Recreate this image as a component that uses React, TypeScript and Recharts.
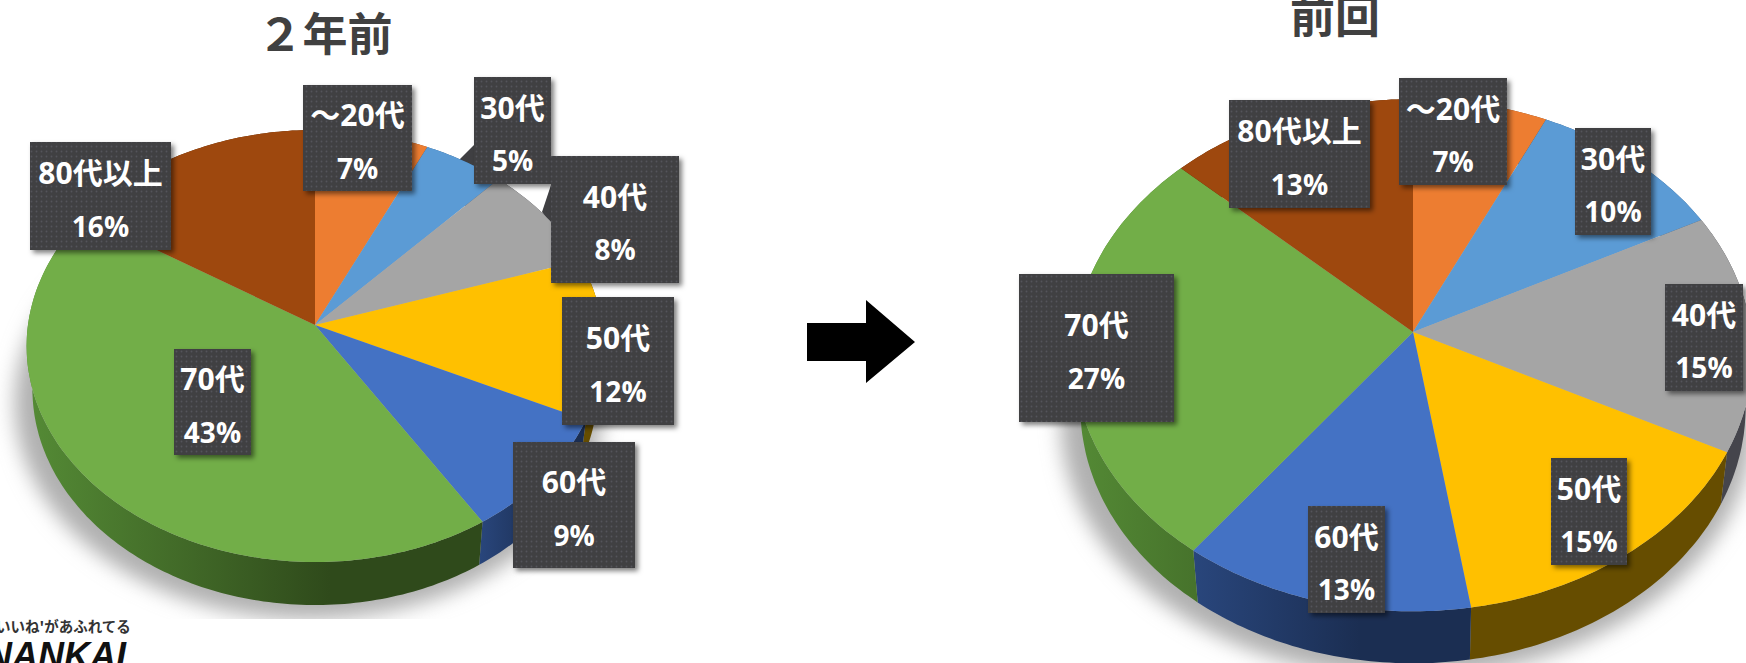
import { PieChart, Pie } from 'recharts'

const ageGroups = ['～20代', '30代', '40代', '50代', '60代', '70代', '80代以上']
const twoYearsAgo = [7, 5, 8, 12, 9, 43, 16]
const lastTime = [7.0, 10.4, 15.1, 15.0, 12.8, 26.7, 13.0]

const topColors = ['#ED7D31', '#5B9BD5', '#A5A5A5', '#FFC000', '#4472C4', '#72AE48', '#9E480E']
const wallColors = ['#7f3f14', '#2f5a85', '#45454c', '#664D00', 'url(#wallBlue)', 'url(#wallGreen)', '#5a2a08']
const wallColorsRight = ['#7f3f14', '#2f5a85', '#45454c', '#664D00', 'url(#wallBlue)', 'url(#wallGreenR)', '#5a2a08']

// label boxes [left, top, right, bottom], same order as ageGroups
const boxesLeft = [
  [303, 85, 412, 191],
  [474, 77, 551, 184],
  [551, 156, 679, 283],
  [562, 297, 674, 425],
  [513, 442, 635, 568],
  [174, 349, 251, 455],
  [30, 142, 171, 250],
]
const boxesRight = [
  [1399, 78, 1507, 185],
  [1575, 128, 1651, 235],
  [1665, 284, 1743, 391],
  [1551, 458, 1627, 565],
  [1308, 506, 1385, 613],
  [1019, 274, 1174, 422],
  [1229, 100, 1370, 208],
]

const FONT = '"Noto Sans CJK JP", "Noto Sans", sans-serif'
const LABEL_FONT = '"Open Sans", "Noto Sans CJK JP", sans-serif'

interface Geom {
  cx: number
  cy: number
  rx: number
  A: number
  k: number
  depth: number
}

const leftPie: Geom = { cx: 315, cy: 325, rx: 287, A: 214, k: 0.0972, depth: 43 }
const rightPie: Geom = { cx: 1413, cy: 332, rx: 338, A: 254, k: 0.0906, depth: 52 }

// the pie is tilted, so the rim is an off-centre ellipse around the apex
function rimPoint(g: Geom, deg: number, dy = 0, shrink = 1) {
  const rad = (deg * Math.PI) / 180
  const u = -Math.cos(rad)
  const den = 1 - g.k * u
  return [g.cx + (shrink * g.rx * Math.sin(rad)) / den, g.cy + dy + (g.A * u) / den]
}

function arcPoints(g: Geom, from: number, to: number, dy = 0, shrink = 1) {
  const steps = Math.max(2, Math.ceil(Math.abs(to - from)))
  const pts: number[][] = []
  for (let i = 0; i <= steps; i++) {
    pts.push(rimPoint(g, from + ((to - from) * i) / steps, dy, shrink))
  }
  return pts
}

const toPath = (pts: number[][]) =>
  'M' + pts.map((p) => p[0].toFixed(1) + ' ' + p[1].toFixed(1)).join('L') + 'Z'

const topShape = (g: Geom) => (props: any) => {
  const from = 90 - props.startAngle
  const to = 90 - props.endAngle
  return <path d={toPath([[g.cx, g.cy], ...arcPoints(g, from, to)])} fill={props.fill} />
}

const wallShape = (g: Geom) => (props: any) => {
  const from = 90 - props.startAngle
  const to = 90 - props.endAngle
  const upper = arcPoints(g, from, to)
  const lower = arcPoints(g, to, from, g.depth, 0.98)
  return <path d={toPath([...upper, ...lower])} fill={props.fill} />
}

const shadowShape = (g: Geom, clip: string) => (props: any) => {
  const from = 90 - props.startAngle
  const to = 90 - props.endAngle
  return (
    <g clipPath={clip}>
      <path d={toPath(arcPoints(g, from, to, g.depth + 14, 1.02))} fill="#b0b0b0" filter="url(#softBlur)" transform="translate(-6 0)" />
    </g>
  )
}

const makeLabel = (values: number[], boxes: number[][]) => (props: any) => {
  const i = props.index
  const [l, t, r, b] = boxes[i]
  const mid = (t + b) / 2
  const tx = (l + r) / 2
  return (
    <g>
      <rect x={l} y={t} width={r - l} height={b - t} fill="#3f3f42" filter="url(#boxShadow)" />
      <rect x={l} y={t} width={r - l} height={b - t} fill="url(#dots)" />
      <text x={tx} y={mid - 23.5} textAnchor="middle" dominantBaseline="central" fontFamily={LABEL_FONT} fontWeight={700} fontSize={30} fill="#fff">
        {ageGroups[i]}
      </text>
      <text x={tx} y={mid + 29.5} textAnchor="middle" dominantBaseline="central" fontFamily={LABEL_FONT} fontWeight={700} fontSize={28} fill="#fff">
        {Math.round(values[i])}%
      </text>
    </g>
  )
}

const rows = (values: number[], colors: string[]) =>
  ageGroups.map((name, i) => ({ name, value: values[i], fill: colors[i] }))

const total = (values: number[]) => [{ name: 'all', value: values.reduce((a, b) => a + b, 0), fill: '#b0b0b0' }]

function layer(key: string, g: Geom, data: any[], shape: any, label?: any) {
  return (
    <Pie
      key={key}
      data={data}
      dataKey="value"
      nameKey="name"
      cx={g.cx}
      cy={g.cy}
      outerRadius={g.rx}
      startAngle={90}
      endAngle={-270}
      stroke="none"
      shape={shape}
      inactiveShape={shape}
      activeShape={shape}
      label={label || false}
      labelLine={false}
      isAnimationActive={false}
    />
  )
}

export default function App() {
  return (
    <div style={{ position: 'absolute', left: 0, top: 0, width: 1746, height: 663, overflow: 'hidden', background: '#fff' }}>
      <PieChart width={1746} height={663} margin={{ top: 0, right: 0, bottom: 0, left: 0 }}>
        <defs>
          <filter id="softBlur" x="-20%" y="-20%" width="140%" height="140%">
            <feGaussianBlur stdDeviation="10" />
          </filter>
          <filter id="boxShadow" x="-20%" y="-20%" width="140%" height="140%">
            <feDropShadow dx="3" dy="3" stdDeviation="2.5" floodColor="#000" floodOpacity="0.5" />
          </filter>
          <pattern id="dots" width="5" height="5" patternUnits="userSpaceOnUse">
            <circle cx="1.5" cy="1.5" r="0.9" fill="#54545a" />
          </pattern>
          <linearGradient id="wallBlue" x1="0" y1="0" x2="1" y2="0">
            <stop offset="0" stopColor="#29467c" />
            <stop offset="0.6" stopColor="#1b2e52" />
          </linearGradient>
          <linearGradient id="wallGreen" gradientUnits="userSpaceOnUse" x1="32" y1="0" x2="330" y2="0">
            <stop offset="0" stopColor="#548a35" />
            <stop offset="1" stopColor="#2f4a1b" />
          </linearGradient>
          <linearGradient id="wallGreenR" gradientUnits="userSpaceOnUse" x1="1075" y1="0" x2="1413" y2="0">
            <stop offset="0" stopColor="#548a35" />
            <stop offset="1" stopColor="#2f4a1b" />
          </linearGradient>
          <clipPath id="clipLeft">
            <rect x="0" y="0" width="873" height="619" />
          </clipPath>
          <clipPath id="clipRight">
            <rect x="873" y="0" width="873" height="663" />
          </clipPath>
        </defs>

        {layer('shadowL', leftPie, total(twoYearsAgo), shadowShape(leftPie, 'url(#clipLeft)'))}
        {layer('wallL', leftPie, rows(twoYearsAgo, wallColors), wallShape(leftPie))}
        {layer('topL', leftPie, rows(twoYearsAgo, topColors), topShape(leftPie), makeLabel(twoYearsAgo, boxesLeft))}

        {layer('shadowR', rightPie, total(lastTime), shadowShape(rightPie, 'url(#clipRight)'))}
        {layer('wallR', rightPie, rows(lastTime, wallColorsRight), wallShape(rightPie))}
        {layer('topR', rightPie, rows(lastTime, topColors), topShape(rightPie), makeLabel(lastTime, boxesRight))}

        <text x={325} y={31} textAnchor="middle" dominantBaseline="central" fontFamily={FONT} fontWeight={700} fontSize={45} fill="#404040">
          ２年前
        </text>
        <text x={1335} y={13} textAnchor="middle" dominantBaseline="central" fontFamily={FONT} fontWeight={700} fontSize={45} fill="#404040">
          前回
        </text>
        <polygon points="807,323 866,323 866,300 915,342 866,383 866,361 807,361" fill="#000" />
        <polygon points="459,160 474,145 474,170" fill="#3f3f42" />
        <polygon points="542,212 551,185 551,224" fill="#3f3f42" />
        <text x={-4} y={625} dominantBaseline="central" fontFamily={FONT} fontWeight={700} fontSize={14.5} fill="#333">
          いいね'があふれてる
        </text>
        <text x={-14} y={668} fontFamily='"Liberation Sans", sans-serif' fontWeight={700} fontStyle="italic" fontSize={36} fill="#111">
          NANKAI
        </text>
      </PieChart>
    </div>
  )
}
